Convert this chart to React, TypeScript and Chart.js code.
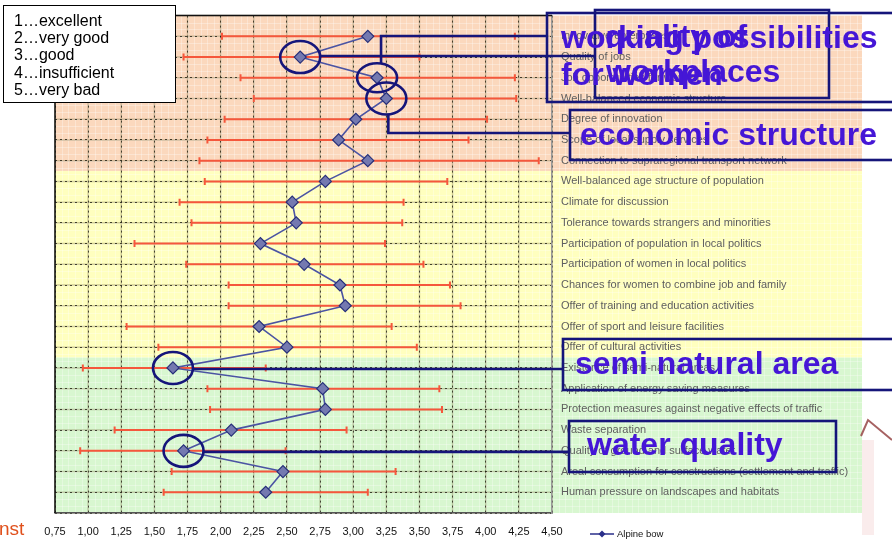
import { useEffect, useRef } from 'react';
import { Chart, registerables } from 'chart.js';

Chart.register(...registerables);

const categories = [
  'Innovative enterprises',
  'Quality of jobs',
  'Job opportunities for women',
  'Well-balanced economic structure',
  'Degree of innovation',
  'Scope of local supply services',
  'Connection to supraregional transport network',
  'Well-balanced age structure of population',
  'Climate for discussion',
  'Tolerance towards strangers and minorities',
  'Participation of population in local politics',
  'Participation of women in local politics',
  'Chances for women to combine job and family',
  'Offer of training and education activities',
  'Offer of sport and leisure facilities',
  'Offer of cultural activities',
  'Existence of semi-natural areas',
  'Application of energy saving measures',
  'Protection measures against negative effects of traffic',
  'Waste separation',
  'Quality of ground and surface water',
  'Areal consumption for constructions (settlement and traffic)',
  'Human pressure on landscapes and habitats',
];

const meanValues = [3.11, 2.6, 3.18, 3.25, 3.02, 2.89, 3.11, 2.79, 2.54, 2.57, 2.3, 2.63, 2.9, 2.94, 2.29, 2.5, 1.64, 2.77, 2.79, 2.08, 1.72, 2.47, 2.34];
const lowValues = [2.01, 1.72, 2.15, 2.25, 2.03, 1.9, 1.84, 1.88, 1.69, 1.78, 1.35, 1.74, 2.06, 2.06, 1.29, 1.53, 0.96, 1.9, 1.92, 1.2, 0.94, 1.63, 1.57];
const highValues = [4.22, 3.5, 4.22, 4.23, 4.01, 3.87, 4.4, 3.71, 3.38, 3.37, 3.24, 3.53, 3.73, 3.81, 3.29, 3.48, 2.34, 3.65, 3.67, 2.95, 2.49, 3.32, 3.11];

const xMin = 0.75;
const xMax = 4.5;
const xStep = 0.25;

const ratingScale = ['1\u2026excellent', '2\u2026very good', '3\u2026good', '4\u2026insufficient', '5\u2026very bad'];
const seriesName = 'Alpine bow';
const bandLimits = [0, 7.5, 16.5, 24];
const bandColors = ['#fbd8bd', '#ffffbf', '#d8f7d0'];

const calloutWomen = ['working possibilities', 'for women'];
const calloutJobs = ['quality of', 'workplaces'];
const calloutEconomy = ['economic structure'];
const calloutNature = ['semi natural area'];
const calloutWater = ['water quality'];

const FONT = "'Liberation Sans', Arial, sans-serif";
const NAVY = '#15157a';
const CALLOUT = '#4516d6';

const decoPlugin = {
  id: 'deco',
  beforeDraw(chart: any) {
    const ctx = chart.ctx;
    const xs = chart.scales.x;
    const ys = chart.scales.y;
    const { left, right, top: aTop, bottom: aBottom } = chart.chartArea;
    const farRight = ys.right;
    ctx.save();
    for (let i = 0; i < bandColors.length; i++) {
      const y1 = ys.getPixelForValue(bandLimits[i]);
      const y2 = ys.getPixelForValue(bandLimits[i + 1]);
      ctx.fillStyle = bandColors[i];
      ctx.fillRect(left, y1, farRight - left, y2 - y1);
    }
    const top = ys.getPixelForValue(0);
    const bottom = ys.getPixelForValue(24);
    const dx = xs.getPixelForValue(xMin + 0.05) - xs.getPixelForValue(xMin);
    const dy = (ys.getPixelForValue(1) - ys.getPixelForValue(0)) / 3;
    ctx.strokeStyle = 'rgba(255,255,255,0.3)';
    ctx.lineWidth = 1;
    ctx.beginPath();
    for (let x = left + dx; x < farRight; x += dx) {
      ctx.moveTo(Math.round(x) + 0.5, top);
      ctx.lineTo(Math.round(x) + 0.5, bottom);
    }
    for (let y = top + dy; y < bottom; y += dy) {
      ctx.moveTo(left, Math.round(y) + 0.5);
      ctx.lineTo(farRight, Math.round(y) + 0.5);
    }
    ctx.stroke();
    ctx.strokeStyle = 'rgba(120,110,60,0.35)';
    ctx.lineWidth = 1.5;
    ctx.beginPath();
    xs.ticks.forEach((t: any) => {
      const px = xs.getPixelForValue(t.value);
      ctx.moveTo(px, aTop);
      ctx.lineTo(px, aBottom);
    });
    ys.ticks.forEach((t: any) => {
      const py = ys.getPixelForValue(t.value);
      ctx.moveTo(left, py);
      ctx.lineTo(right, py);
    });
    ctx.stroke();
    ctx.restore();
  },
  afterDraw(chart: any) {
    const ctx = chart.ctx;
    const xs = chart.scales.x;
    const ys = chart.scales.y;
    const { left, top, right, bottom } = chart.chartArea;
    ctx.save();
    ctx.strokeStyle = '#111';
    ctx.lineWidth = 1.5;
    ctx.beginPath();
    ctx.moveTo(left, bottom);
    ctx.lineTo(left, top);
    ctx.lineTo(right, top);
    ctx.stroke();

    const pt = (row: number) => ({
      x: xs.getPixelForValue(meanValues[row - 1]),
      y: ys.getPixelForValue(row),
    });

    ctx.strokeStyle = NAVY;
    ctx.lineWidth = 2.6;
    [2, 3, 4, 17, 21].forEach((r) => {
      const p = pt(r);
      ctx.beginPath();
      ctx.ellipse(p.x, p.y, 20, r === 3 ? 14.5 : 16, 0, 0, Math.PI * 2);
      ctx.stroke();
    });

    let p = pt(2);
    ctx.beginPath();
    ctx.moveTo(p.x + 20, p.y - 1);
    ctx.lineTo(595, p.y - 1);
    ctx.stroke();
    p = pt(3);
    ctx.beginPath();
    ctx.moveTo(p.x + 4, p.y - 14);
    ctx.lineTo(p.x + 4, 36);
    ctx.lineTo(547, 36);
    ctx.stroke();
    p = pt(4);
    ctx.beginPath();
    ctx.moveTo(p.x + 2, p.y + 16);
    ctx.lineTo(p.x + 2, 133);
    ctx.lineTo(570, 133);
    ctx.stroke();
    p = pt(17);
    ctx.beginPath();
    ctx.moveTo(p.x + 20, p.y + 1);
    ctx.lineTo(563, p.y + 1);
    ctx.stroke();
    p = pt(21);
    ctx.beginPath();
    ctx.moveTo(p.x + 19, p.y + 1);
    ctx.lineTo(569, p.y + 1);
    ctx.stroke();

    ctx.strokeRect(547, 13, 360, 89);
    ctx.strokeRect(595, 10, 234, 88);
    ctx.strokeRect(570, 110, 340, 50);
    ctx.strokeRect(563, 339, 340, 51);
    ctx.strokeRect(569, 421, 267, 51);

    ctx.fillStyle = CALLOUT;
    ctx.font = `bold 32px ${FONT}`;
    ctx.textBaseline = 'alphabetic';
    ctx.textAlign = 'left';
    ctx.fillText(calloutWomen[0], 561, 48);
    ctx.fillText(calloutWomen[1], 561, 85);
    ctx.fillText(calloutJobs[0], 605, 47);
    ctx.fillText(calloutJobs[1], 606, 82);
    ctx.fillText(calloutEconomy[0], 580, 145);
    ctx.fillText(calloutNature[0], 575, 374);
    ctx.fillText(calloutWater[0], 587, 455);

    ctx.fillStyle = '#fff';
    ctx.fillRect(3, 5, 172, 98);
    ctx.strokeStyle = '#000';
    ctx.lineWidth = 1;
    ctx.strokeRect(3.5, 5.5, 172, 97);
    ctx.fillStyle = '#000';
    ctx.font = `16px ${FONT}`;
    ratingScale.forEach((t, i) => ctx.fillText(t, 14, 26 + i * 17.2));

    ctx.strokeStyle = '#2a2f8a';
    ctx.lineWidth = 1.5;
    ctx.beginPath();
    ctx.moveTo(590, 534);
    ctx.lineTo(614, 534);
    ctx.stroke();
    ctx.fillStyle = '#2a2f8a';
    ctx.beginPath();
    ctx.moveTo(602, 530.5);
    ctx.lineTo(605.5, 534);
    ctx.lineTo(602, 537.5);
    ctx.lineTo(598.5, 534);
    ctx.closePath();
    ctx.fill();
    ctx.fillStyle = '#111';
    ctx.font = `9.5px ${FONT}`;
    ctx.textBaseline = 'middle';
    ctx.fillText(seriesName, 617, 534);

    ctx.fillStyle = '#e0501c';
    ctx.font = `19px ${FONT}`;
    ctx.fillText('nst', -1, 530);

    ctx.fillStyle = 'rgba(240,200,200,0.35)';
    ctx.fillRect(862, 440, 12, 95);
    ctx.strokeStyle = 'rgba(150,70,70,0.85)';
    ctx.lineWidth = 2;
    ctx.beginPath();
    ctx.moveTo(861, 436);
    ctx.lineTo(868, 420);
    ctx.lineTo(892, 440);
    ctx.stroke();
    ctx.restore();
  },
};

export default function App() {
  const ref = useRef<HTMLCanvasElement>(null);
  useEffect(() => {
    if (!ref.current) return;
    const errData: any[] = [];
    lowValues.forEach((lo, i) => {
      errData.push({ x: lo, y: i + 1 });
      errData.push({ x: highValues[i], y: i + 1 });
      errData.push({ x: null, y: null });
    });
    const chart = new Chart(ref.current, {
      type: 'line',
      data: {
        datasets: [
          {
            label: 'range',
            data: errData,
            borderColor: '#f5573c',
            borderWidth: 2,
            pointStyle: 'line',
            pointRotation: 90,
            pointRadius: 3.5,
            pointBorderColor: '#f5573c',
            pointBorderWidth: 2,
            spanGaps: false,
            order: 2,
          } as any,
          {
            label: seriesName,
            data: meanValues.map((v, i) => ({ x: v, y: i + 1 })),
            borderColor: '#4b54a3',
            borderWidth: 1.6,
            pointStyle: 'rectRot',
            pointRadius: 6,
            pointBackgroundColor: '#7479b0',
            pointBorderColor: '#27307a',
            pointBorderWidth: 1.2,
            order: 1,
          } as any,
        ],
      },
      options: {
        responsive: false,
        maintainAspectRatio: false,
        animation: false,
        devicePixelRatio: 1,
        layout: { padding: { left: 55, top: 13, right: 30, bottom: 0 } },
        plugins: { legend: { display: false }, tooltip: { enabled: false } },
        scales: {
          x: {
            type: 'linear',
            position: 'bottom',
            min: xMin,
            max: xMax,
            afterFit: (s: any) => {
              s.height = 27;
            },
            ticks: {
              stepSize: xStep,
              autoSkip: false,
              maxRotation: 0,
              padding: 12,
              color: '#111',
              font: { size: 11, family: FONT },
              callback: (v: any) => Number(v).toFixed(2).replace('.', ','),
            },
            grid: { color: 'rgba(20,20,10,0.75)', lineWidth: 1, drawTicks: false },
            border: { display: true, color: '#555', width: 1.5, dash: [2, 3] },
          },
          y: {
            type: 'linear',
            position: 'right',
            reverse: true,
            min: 0,
            max: 24,
            afterFit: (s: any) => {
              s.width = 310;
            },
            ticks: {
              stepSize: 1,
              autoSkip: false,
              padding: 9,
              color: '#5e5e5e',
              font: { size: 11, family: FONT },
              callback: (v: any) => categories[Number(v) - 1] ?? '',
            },
            grid: { color: 'rgba(20,20,10,0.75)', lineWidth: 1, drawTicks: false },
            border: { display: true, color: '#999', width: 1.5, dash: [2, 3] },
          },
        },
      } as any,
      plugins: [decoPlugin],
    });
    return () => chart.destroy();
  }, []);
  return (
    <div style={{ position: 'fixed', left: 0, top: 0, width: 892, height: 540, background: '#fff' }}>
      <canvas ref={ref} width={892} height={540} />
    </div>
  );
}
